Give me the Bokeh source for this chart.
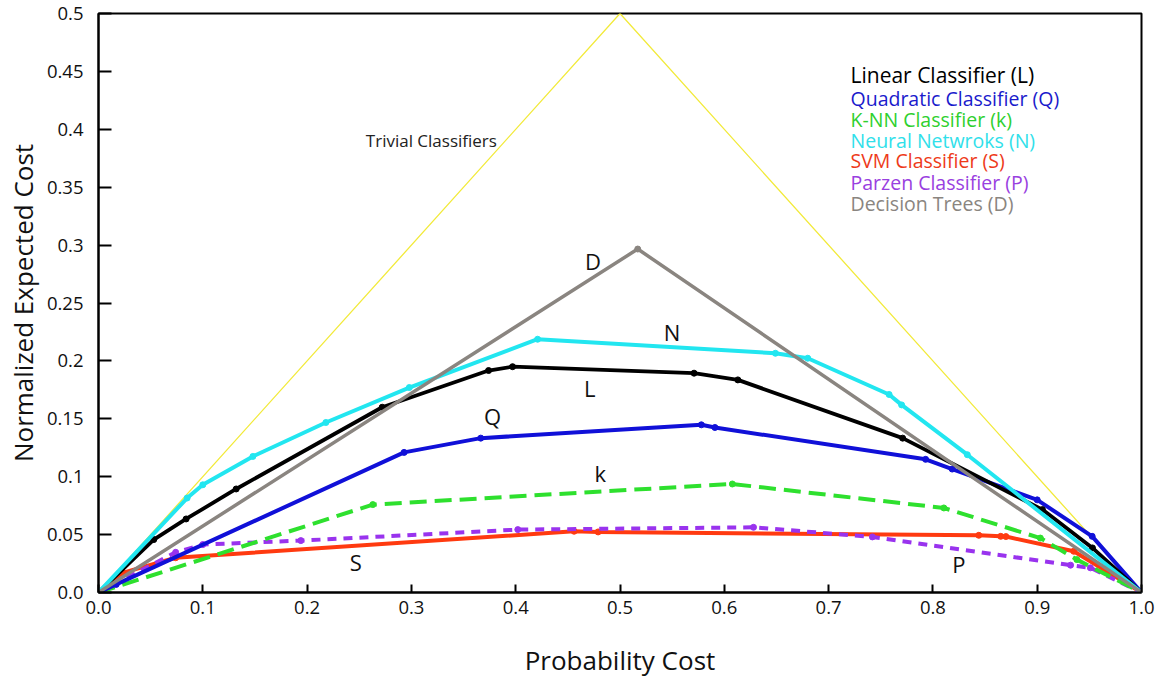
from bokeh.plotting import figure
from bokeh.models import FixedTicker, Label, ColumnDataSource
from bokeh.embed import file_html
from bokeh.resources import INLINE

# ---------------- data ----------------
trivial_x = [0.0, 0.5, 1.0]
trivial_y = [0.0, 0.5, 0.0]

linear_x = [0.0, 0.053, 0.084, 0.132, 0.272, 0.374, 0.397, 0.571, 0.613, 0.771, 0.905, 0.953, 1.0]
linear_y = [0.0, 0.0457, 0.0635, 0.0894, 0.160, 0.1917, 0.195, 0.1894, 0.1836, 0.1333, 0.0716, 0.0385, 0.0]

quad_x = [0.0, 0.017, 0.293, 0.3665, 0.578, 0.591, 0.793, 0.8185, 0.900, 0.9527, 1.0]
quad_y = [0.0, 0.007, 0.121, 0.1333, 0.1448, 0.1425, 0.115, 0.1066, 0.080, 0.0485, 0.0]

knn_x = [0.0, 0.263, 0.6077, 0.8105, 0.903, 0.938, 1.0]
knn_y = [0.0, 0.0759, 0.0937, 0.073, 0.047, 0.0284, 0.0]

nn_x = [0.0, 0.085, 0.100, 0.148, 0.218, 0.298, 0.421, 0.649, 0.680, 0.758, 0.770, 0.833, 1.0]
nn_y = [0.0, 0.0816, 0.093, 0.1175, 0.1468, 0.177, 0.2187, 0.2066, 0.2023, 0.171, 0.162, 0.119, 0.0]

svm_x = [0.0, 0.023, 0.074, 0.456, 0.479, 0.844, 0.865, 0.870, 0.935, 1.0]
svm_y = [0.0, 0.017, 0.030, 0.0529, 0.0523, 0.0494, 0.0485, 0.0483, 0.0356, 0.0]

parzen_x = [0.0, 0.074, 0.100, 0.194, 0.402, 0.628, 0.742, 0.932, 0.951, 1.0]
parzen_y = [0.0, 0.0347, 0.0414, 0.0448, 0.0543, 0.0563, 0.048, 0.0236, 0.0213, 0.0]

dt_x = [0.0, 0.517, 1.0]
dt_y = [0.0, 0.2966, 0.0]

x_ticks = [0.0, 0.1, 0.2, 0.3, 0.4, 0.5, 0.6, 0.7, 0.8, 0.9, 1.0]
x_tick_labels = ["0.0", "0.1", "0.2", "0.3", "0.4", "0.5", "0.6", "0.7", "0.8", "0.9", "1.0"]
y_ticks = [0.0, 0.05, 0.1, 0.15, 0.2, 0.25, 0.3, 0.35, 0.4, 0.45, 0.5]
y_tick_labels = ["0.0", "0.05", "0.1", "0.15", "0.2", "0.25", "0.3", "0.35", "0.4", "0.45", "0.5"]

legend_texts = ["Linear Classifier (L)", "Quadratic Classifier (Q)", "K-NN Classifier (k)",
                "Neural Netwroks (N)", "SVM Classifier  (S)", "Parzen Classifier (P)",
                "Decision Trees (D)"]

FONT = "Open Sans"
C_BLACK = "#000000"
C_BLUE = "#1010d8"
C_GREEN = "#2ee02e"
C_CYAN = "#22e6f0"
C_RED = "#ff3a10"
C_PURPLE = "#9933ee"
C_GRAY = "#8a8580"
C_YELLOW = "#f2ea3a"

p = figure(width=1165, height=680, output_backend="svg", toolbar_location=None,
           x_range=(0, 1), y_range=(0, 0.5),
           min_border_left=98, min_border_right=24, min_border_top=13, min_border_bottom=87,
           x_axis_label="Probability Cost", y_axis_label="Normalized Expected Cost")
p.grid.visible = False
p.outline_line_color = "black"
p.outline_line_width = 2
p.background_fill_color = "white"
p.border_fill_color = "white"

for ax in (p.xaxis[0], p.yaxis[0]):
    ax.axis_line_width = 2
    ax.major_tick_line_width = 2
    ax.minor_tick_line_color = None
    ax.major_tick_out = 0
    ax.major_label_text_font = FONT
    ax.major_label_text_font_size = "18.5px"
    ax.major_label_text_color = "#111111"
    ax.axis_label_text_font = FONT
    ax.axis_label_text_font_size = "26px"
    ax.axis_label_text_font_style = "normal"
    ax.axis_label_text_color = "#111111"

p.xaxis.ticker = FixedTicker(ticks=x_ticks)
p.xaxis.major_label_overrides = {t: l for t, l in zip(x_ticks, x_tick_labels)}
p.xaxis.major_tick_in = 8
p.xaxis.major_label_standoff = 8
p.xaxis.axis_label_standoff = 25

p.yaxis.ticker = FixedTicker(ticks=y_ticks)
p.yaxis.major_label_overrides = {t: l for t, l in zip(y_ticks, y_tick_labels)}
p.yaxis.major_tick_in = 13
p.yaxis.major_label_standoff = 15
p.yaxis.axis_label_standoff = 3

# trivial classifiers
p.line(trivial_x, trivial_y, line_color=C_YELLOW, line_width=1.3)

series = [
    (svm_x, svm_y, C_RED, "solid", 4),
    (parzen_x, parzen_y, C_PURPLE, "9 7", 4),
    (knn_x, knn_y, C_GREEN, "17 8", 4),
    (quad_x, quad_y, C_BLUE, "solid", 4),
    (linear_x, linear_y, C_BLACK, "solid", 3.8),
    (nn_x, nn_y, C_CYAN, "solid", 4),
    (dt_x, dt_y, C_GRAY, "solid", 3.5),
]
for xs, ys, col, dash, w in series:
    src = ColumnDataSource(dict(x=xs, y=ys))
    p.line("x", "y", source=src, line_color=col, line_width=w, line_dash=dash)
    p.scatter("x", "y", source=src, size=6, fill_color=col, line_color=col)

# annotations
p.add_layout(Label(x=0.2563, y=0.3905, text="Trivial Classifiers", text_font=FONT,
                   text_font_size="17px", text_color="#222222", text_baseline="middle"))

letters = [("D", 0.474, 0.2866), ("N", 0.550, 0.2253), ("L", 0.471, 0.1765),
           ("Q", 0.3777, 0.152), ("k", 0.481, 0.1032), ("S", 0.2467, 0.0261),
           ("P", 0.825, 0.025)]
for t, lx, ly in letters:
    p.add_layout(Label(x=lx, y=ly, text=t, text_font=FONT, text_font_size="22px",
                       text_color="#111111", text_align="center", text_baseline="middle"))

legend_colors = [C_BLACK, "#1a1acc", "#2ed02e", "#30e0ea", "#ee3a1a", "#9940e0", "#8a8580"]
legend_y = [0.4466, 0.4267, 0.4086, 0.3905, 0.3733, 0.3543, 0.3362]
legend_sizes = ["21px", "19.5px", "19.5px", "19.5px", "19.5px", "19.5px", "19.5px"]
for t, c, ly, fs in zip(legend_texts, legend_colors, legend_y, legend_sizes):
    p.add_layout(Label(x=0.721, y=ly, text=t, text_font=FONT, text_font_size=fs,
                       text_color=c, text_baseline="middle"))

open("out.html", "w").write(file_html(p, INLINE))
